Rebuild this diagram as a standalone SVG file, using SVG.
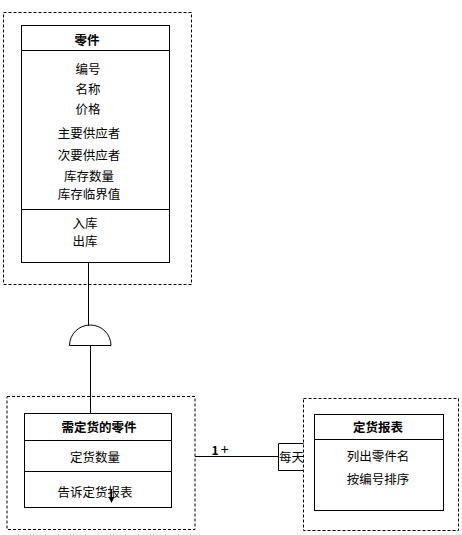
<svg xmlns="http://www.w3.org/2000/svg" width="462" height="535" viewBox="0 0 462 535">
<style>
.bg{fill:#fff}
.dash{fill:none;stroke:#000;stroke-width:1;stroke-dasharray:3,2}
.box{fill:#fff;stroke:#000;stroke-width:1}
.ln{fill:none;stroke:#000;stroke-width:1}
text{font-family:"Noto Sans CJK SC","Liberation Sans",sans-serif;font-size:12.5px;fill:#000;text-anchor:middle;dominant-baseline:central}
.t{font-weight:bold}
</style>
<rect class="bg" x="0" y="0" width="462" height="535"/>
<g id="part">
<rect class="dash" x="3.5" y="12.5" width="188" height="272"/>
<rect class="box" x="21.5" y="25.5" width="148" height="237"/>
<line class="ln" x1="21.5" y1="50.5" x2="169.5" y2="50.5"/>
<line class="ln" x1="21.5" y1="209.5" x2="169.5" y2="209.5"/>
<text class="t" x="87" y="39">零件</text>
<text x="88" y="68">编号</text>
<text x="88" y="88">名称</text>
<text x="88" y="108">价格</text>
<text x="89" y="132">主要供应者</text>
<text x="89" y="154">次要供应者</text>
<text x="89" y="175">库存数量</text>
<text x="89" y="193">库存临界值</text>
<text x="85" y="222">入库</text>
<text x="85" y="240">出库</text>
</g>
<g id="ordered-part">
<rect class="dash" x="7" y="396.5" width="188" height="133"/>
<rect class="box" x="24.5" y="413.5" width="147" height="94"/>
<line class="ln" x1="24.5" y1="440.5" x2="171.5" y2="440.5"/>
<line class="ln" x1="24.5" y1="471.5" x2="171.5" y2="471.5"/>
<text class="t" x="99" y="426">需定货的零件</text>
<text x="95" y="456.5">定货数量</text>
<text x="95" y="491">告诉定货报表</text>
<line class="ln" x1="111.5" y1="490" x2="111.5" y2="498"/>
<polygon points="108.5,497 114.5,497 111.5,503" fill="#000"/>
</g>
<g id="report">
<rect class="dash" x="303.5" y="398.5" width="155" height="132"/>
<rect class="box" x="314.5" y="414.5" width="129" height="96"/>
<line class="ln" x1="314.5" y1="439.5" x2="443.5" y2="439.5"/>
<text class="t" x="378" y="426.5">定货报表</text>
<text x="378" y="455.5">列出零件名</text>
<text x="378" y="478.5">按编号排序</text>
</g>
<g id="connectors">
<line class="ln" x1="88.5" y1="262.5" x2="88.5" y2="325.5"/>
<path class="ln" d="M69.5,345.5 A20.75,20.5 0 0 1 111,345.5 Z"/>
<line class="ln" x1="90.5" y1="345.5" x2="90.5" y2="413.5"/>
<line class="ln" x1="195" y1="456.5" x2="278.5" y2="456.5"/>
<path class="ln" d="M303.5,443.5 H278.5 V470.5 H303.5"/>
<text x="291.5" y="456.5">每天</text>
<text x="220" y="449" style="font-size:12px"><tspan font-weight="bold">1</tspan><tspan dx="2" style="font-size:14px">+</tspan></text>
</g>
</svg>
